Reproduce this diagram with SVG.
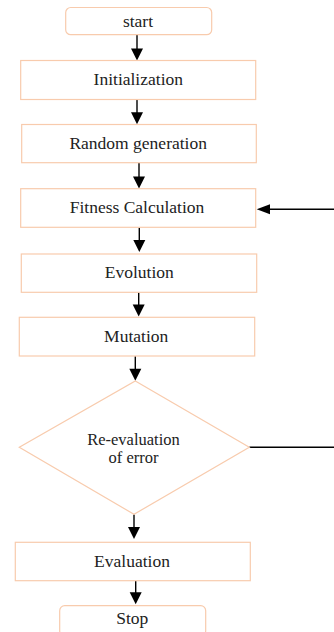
<svg xmlns="http://www.w3.org/2000/svg" width="334" height="632" viewBox="0 0 334 632">
<style>
.box{fill:#fff;stroke:#f8cbad;stroke-width:1.2}
.t{font-family:'Liberation Serif','DejaVu Serif','Times New Roman',serif;font-size:17.5px;fill:#222;text-anchor:middle}
.c{stroke:#000;stroke-width:1.4;fill:none}
.h{fill:#000}
</style>
<defs>
<polygon id="ahd" points="-6,-12 6,-12 0,0"/>
</defs>
<rect width="334" height="632" fill="#fff"/>
<g id="connectors">
<line class="c" x1="137" y1="35" x2="137" y2="50"/><use href="#ahd" class="h" x="137" y="60.5"/>
<line class="c" x1="137" y1="99.5" x2="137" y2="114"/><use href="#ahd" class="h" x="137" y="124.3"/>
<line class="c" x1="139" y1="163" x2="139" y2="178"/><use href="#ahd" class="h" x="139" y="188.5"/>
<line class="c" x1="139.3" y1="227.5" x2="139.3" y2="242"/><use href="#ahd" class="h" x="139.3" y="252"/>
<line class="c" x1="138.7" y1="292.5" x2="138.7" y2="306"/><use href="#ahd" class="h" x="138.7" y="316.5"/>
<line class="c" x1="135.3" y1="356.2" x2="135.3" y2="370"/><use href="#ahd" class="h" x="135.3" y="380.7"/>
<line class="c" x1="134" y1="514.5" x2="134" y2="529"/><use href="#ahd" class="h" x="134" y="539"/>
<line class="c" x1="135.7" y1="581" x2="135.7" y2="594"/><use href="#ahd" class="h" x="135.7" y="604.3"/>
<line class="c" x1="334" y1="209.3" x2="268" y2="209.3"/>
<polygon class="h" points="256.7,209.3 270,204.3 270,214.3"/>
<line class="c" x1="249.3" y1="447.3" x2="334" y2="447.3"/>
</g>
<g id="start">
<rect class="box" x="65.7" y="7.5" width="146" height="27.2" rx="5"/>
<text class="t" x="138" y="26.5" font-family="Liberation Serif, serif">start</text>
</g>
<g id="initialization">
<rect class="box" x="20.7" y="60.5" width="235" height="39"/>
<text class="t" x="138.3" y="85.3">Initialization</text>
</g>
<g id="random">
<rect class="box" x="21.7" y="124.5" width="234.6" height="38.2"/>
<text class="t" x="138.2" y="148.7">Random generation</text>
</g>
<g id="fitness">
<rect class="box" x="20.7" y="188.7" width="235" height="38.6"/>
<text class="t" x="137" y="212.7">Fitness Calculation</text>
</g>
<g id="evolution">
<rect class="box" x="21.3" y="254" width="235.4" height="38.3"/>
<text class="t" x="139.3" y="278.3">Evolution</text>
</g>
<g id="mutation">
<rect class="box" x="19.3" y="317.3" width="235.4" height="38.7"/>
<text class="t" x="136.2" y="342">Mutation</text>
</g>
<g id="reeval">
<polygon class="box" points="135.3,381 249.3,447.3 134,514.3 19.3,447.3"/>
<text class="t" x="133.5" y="444.5" style="font-size:16.5px">Re-evaluation</text>
<text class="t" x="133.5" y="462.5" style="font-size:16.5px">of error</text>
</g>
<g id="evaluation">
<rect class="box" x="15.3" y="542.3" width="235" height="38.4"/>
<text class="t" x="132" y="566.7">Evaluation</text>
</g>
<g id="stop">
<rect class="box" x="59.7" y="605.7" width="146" height="30" rx="5"/>
<text class="t" x="132.3" y="624.3">Stop</text>
</g>
</svg>
